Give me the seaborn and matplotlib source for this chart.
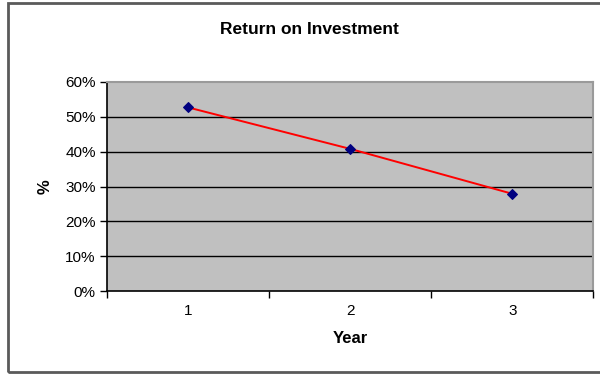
import matplotlib
matplotlib.use("Agg")
import matplotlib.pyplot as plt
from matplotlib.patches import Rectangle
from matplotlib.ticker import FixedLocator, PercentFormatter
import seaborn as sns
import pandas as pd

# Return on investment per year
years = [1, 2, 3]
roi = [0.527, 0.408, 0.279]
y_ticks = [0.0, 0.1, 0.2, 0.3, 0.4, 0.5, 0.6]

df = pd.DataFrame({"Year": years, "ROI": roi})

sns.set_theme(style="white")
plt.rcParams["font.family"] = ["Liberation Sans", "DejaVu Sans"]

fig = plt.figure(figsize=(6.0, 3.77), dpi=100)
ax = fig.add_axes([0.1783, 0.2281, 0.8108, 0.5544])
ax.set_facecolor("#c0c0c0")

# Horizontal gridlines at each 10%
for v in y_ticks[1:-1]:
    ax.axhline(v, color="black", lw=1.0, zorder=1)

sns.lineplot(data=df, x="Year", y="ROI", ax=ax, color="#ff0000", lw=1.4,
             marker="D", markersize=5.5, markerfacecolor="#000080",
             markeredgecolor="#000080", zorder=3)

ax.set_xlim(0.5, 3.5)
ax.set_ylim(0, 0.6)
ax.set_yticks(y_ticks)
ax.yaxis.set_major_formatter(PercentFormatter(1.0, decimals=0))
ax.set_xticks(years)
ax.xaxis.set_minor_locator(FixedLocator([0.5, 1.5, 2.5, 3.5]))

ax.tick_params(axis="y", which="major", direction="out", length=5, width=1,
               color="black", left=True, labelsize=11, pad=3, labelcolor="black")
ax.tick_params(axis="x", which="major", length=0, labelsize=11, pad=9,
               labelcolor="black")
ax.tick_params(axis="x", which="minor", direction="out", length=5, width=1,
               color="black", bottom=True)

for side in ("left", "bottom"):
    ax.spines[side].set_color("black")
    ax.spines[side].set_linewidth(1.2)
for side in ("top", "right"):
    ax.spines[side].set_color("#9a9a9a")
    ax.spines[side].set_linewidth(1.5)

ax.set_xlabel("Year", fontsize=12, fontweight="bold", labelpad=10, color="black")
ax.set_ylabel("%", fontsize=12, fontweight="bold", labelpad=9, color="black")
fig.text(0.515, 0.923, "Return on Investment", ha="center", va="center",
         fontsize=12.5, fontweight="bold", color="black")

# Chart frame
fig.patches.append(Rectangle((8 / 600, 5 / 377), 1.0, 1 - 8 / 377,
                             transform=fig.transFigure, fill=False,
                             edgecolor="#5a5a5a", lw=2.0))

fig.savefig("out.png", dpi=100, facecolor="white")
